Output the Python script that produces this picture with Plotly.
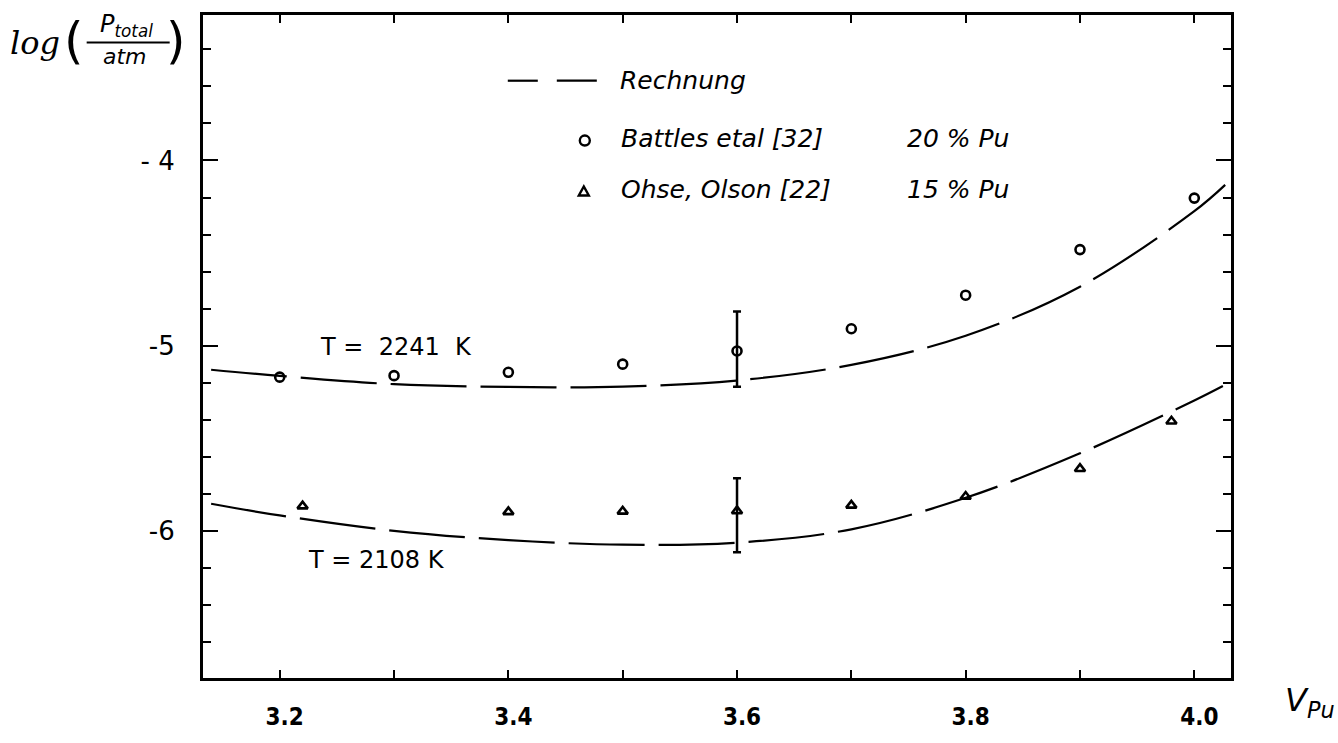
import plotly.graph_objects as go

# ---------------- data ----------------
calc_x = [3.14, 3.2, 3.3, 3.4, 3.5, 3.6, 3.7, 3.8, 3.9, 4.0, 4.027]
calc_2241 = [-5.129, -5.162, -5.207, -5.222, -5.220, -5.187, -5.103, -4.946, -4.681, -4.274, -4.132]
calc_x_low = [3.14, 3.2, 3.3, 3.4, 3.5, 3.6, 3.7, 3.8, 3.9, 4.0, 4.025]
calc_2108 = [-5.852, -5.915, -5.998, -6.048, -6.073, -6.062, -5.99, -5.82, -5.58, -5.295, -5.217]

battles_x = [3.2, 3.3, 3.4, 3.5, 3.6, 3.7, 3.8, 3.9, 4.0]
battles_y = [-5.169, -5.161, -5.143, -5.099, -5.028, -4.908, -4.727, -4.481, -4.203]
battles_err_plus = [None, None, None, None, 0.213, None, None, None, None]
battles_err_minus = [None, None, None, None, 0.193, None, None, None, None]

ohse_x = [3.22, 3.4, 3.5, 3.6, 3.7, 3.8, 3.9, 3.98]
ohse_y = [-5.865, -5.896, -5.893, -5.891, -5.861, -5.813, -5.663, -5.407]
ohse_err_plus = [None, None, None, 0.177, None, None, None, None]
ohse_err_minus = [None, None, None, 0.222, None, None, None, None]

x_tickvals = [3.2, 3.4, 3.6, 3.8, 4.0]
x_ticktext = ["3.2", "3.4", "3.6", "3.8", "4.0"]
y_tickvals = [-6, -5, -4]
y_ticktext = ["-6", "-5", "- 4"]

legend_calc = "Rechnung"
legend_battles = "Battles etal [32]"
legend_battles_pct = "20 % Pu"
legend_ohse = "Ohse, Olson [22]"
legend_ohse_pct = "15 % Pu"
label_2241 = "T =  2241  K"
label_2108 = "T = 2108 K"

# ---------------- geometry (pixels) ----------------
W, H = 1338, 743
L, R, T, B = 203.3, 1231.0, 15.0, 691.0


def px(x):
    return (x - L) / (R - L)


def py(y):
    return (B - y) / (B - T)


fig = go.Figure()

dash = "76px,14px"
fig.add_trace(go.Scatter(x=calc_x, y=calc_2241, mode="lines",
                         line=dict(color="black", width=2.2, dash=dash, shape="spline"),
                         showlegend=False, hoverinfo="skip"))
fig.add_trace(go.Scatter(x=calc_x_low, y=calc_2108, mode="lines",
                         line=dict(color="black", width=2.2, dash=dash, shape="spline"),
                         showlegend=False, hoverinfo="skip"))


def split(xs, ys, ep, em):
    plain_x, plain_y, ex, ey, eplus, eminus = [], [], [], [], [], []
    for a, b, p, m in zip(xs, ys, ep, em):
        if p is None:
            plain_x.append(a); plain_y.append(b)
        else:
            ex.append(a); ey.append(b); eplus.append(p); eminus.append(m)
    return plain_x, plain_y, ex, ey, eplus, eminus


for xs, ys, ep, em, sym, size in [
    (battles_x, battles_y, battles_err_plus, battles_err_minus, "circle-open", 9),
    (ohse_x, ohse_y, ohse_err_plus, ohse_err_minus, "triangle-up-open", 9),
]:
    a, b, ex, ey, eplus, eminus = split(xs, ys, ep, em)
    fig.add_trace(go.Scatter(x=a, y=b, mode="markers",
                             marker=dict(symbol=sym, size=size, color="black",
                                         line=dict(color="black", width=2.6)),
                             showlegend=False))
    fig.add_trace(go.Scatter(x=ex, y=ey, mode="markers",
                             marker=dict(symbol=sym, size=size, color="black",
                                         line=dict(color="black", width=2.6)),
                             error_y=dict(type="data", symmetric=False, array=eplus,
                                          arrayminus=eminus, color="black",
                                          thickness=2.5, width=4),
                             showlegend=False))

xr = [3.2 - (280 - L) / 1142.9, 3.2 + (R - 280) / 1142.9]
yr = [-4 - (B - 163.3) / 189.0, -4 + (163.3 - T) / 189.0]

fig.update_layout(
    width=W, height=H, autosize=False,
    margin=dict(l=L, r=W - R, t=T, b=H - B, pad=0),
    paper_bgcolor="white", plot_bgcolor="white",
    font=dict(family="DejaVu Sans", color="black"),
    xaxis=dict(range=xr, tickmode="array", tickvals=x_tickvals, ticktext=x_ticktext,
               ticks="inside", ticklen=8, tickwidth=2, tickcolor="black",
               minor=dict(tickmode="linear", tick0=3.2, dtick=0.1, ticks="inside",
                          ticklen=8, tickwidth=2, tickcolor="black", showgrid=False),
               showline=True, linewidth=3, linecolor="black", mirror="ticks",
               showgrid=False, zeroline=False,
               tickfont=dict(family="DejaVu Sans Condensed", size=24, color="black", weight="bold"),
               ticklabelstandoff=15, ticklabelshift=5),
    yaxis=dict(range=yr, tickmode="array", tickvals=y_tickvals, ticktext=y_ticktext,
               ticks="inside", ticklen=15, tickwidth=2, tickcolor="black",
               minor=dict(tickmode="linear", tick0=-4, dtick=0.2, ticks="inside",
                          ticklen=8, tickwidth=2, tickcolor="black", showgrid=False),
               showline=True, linewidth=3, linecolor="black", mirror="ticks",
               showgrid=False, zeroline=False,
               tickfont=dict(family="DejaVu Sans", size=26, color="black"),
               ticklabelstandoff=20),
)

ann = []


def text(x, y, s, size, xanchor="center", italic=False, family="DejaVu Sans"):
    ann.append(dict(x=px(x), y=py(y), xref="paper", yref="paper", text=s,
                    showarrow=False, xanchor=xanchor, yanchor="middle",
                    font=dict(size=size, family=family, color="black",
                              style="italic" if italic else "normal")))


# y-axis title: log (P_total / atm)
text(35, 44, "log", 32, italic=True, family="DejaVu Serif")
text(74, 42, "(", 50, family="DejaVu Sans")
text(176, 42, ")", 50, family="DejaVu Sans")
text(127, 26, "P<sub>total</sub>", 24, italic=True)
text(125, 57, "atm", 22, italic=True)

# x-axis title
text(1310, 715, "V<sub>Pu</sub>", 32, italic=True)

# curve labels
text(396, 354, label_2241, 24)
text(377, 571, label_2108, 24)

# legend
text(618, 82, legend_calc, 25, xanchor="left", italic=True)
text(619, 141, legend_battles, 25, xanchor="left", italic=True)
text(905, 141, legend_battles_pct, 25, xanchor="left", italic=True)
text(619, 193, legend_ohse, 25, xanchor="left", italic=True)
text(905, 193, legend_ohse_pct, 25, xanchor="left", italic=True)

fig.update_layout(annotations=ann)

shapes = [
    # fraction bar
    dict(type="line", xref="paper", yref="paper", x0=px(87), x1=px(170), y0=py(43), y1=py(43),
         line=dict(color="black", width=2)),
    # legend dashes
    dict(type="line", xref="paper", yref="paper", x0=px(508), x1=px(538), y0=py(82), y1=py(82),
         line=dict(color="black", width=2.2)),
    dict(type="line", xref="paper", yref="paper", x0=px(557), x1=px(597), y0=py(82), y1=py(82),
         line=dict(color="black", width=2.2)),
    # legend circle
    dict(type="circle", xref="paper", yref="paper", xsizemode="pixel", ysizemode="pixel",
         xanchor=px(585), yanchor=py(143), x0=-5, x1=5, y0=-5, y1=5,
         line=dict(color="black", width=2.4)),
    # legend triangle
    dict(type="path", xref="paper", yref="paper", xsizemode="pixel", ysizemode="pixel",
         xanchor=px(584), yanchor=py(195), path="M -5 -4 L 5 -4 L 0 5 Z",
         line=dict(color="black", width=2.4)),
]
fig.update_layout(shapes=shapes)

fig.write_html("out.html")
